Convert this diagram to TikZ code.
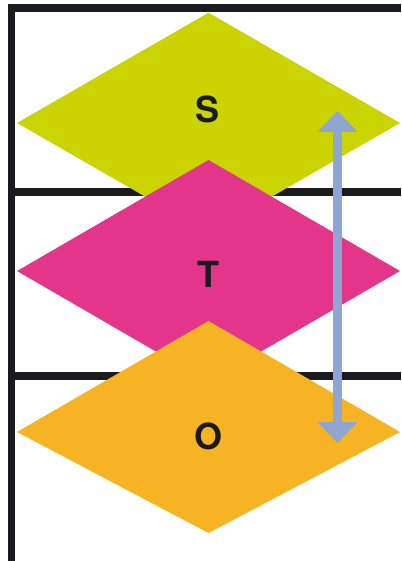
\documentclass[tikz,border=0pt]{standalone}
\usepackage{fontspec}
\setsansfont{TeX Gyre Heros}
\usetikzlibrary{arrows.meta}
\usepackage{xcolor}
\definecolor{scolor}{RGB}{203, 211, 0}
\definecolor{tcolor}{RGB}{227, 54, 138}
\definecolor{ocolor}{RGB}{246, 179, 35}
\definecolor{arrowcolor}{RGB}{143, 166, 211}
\definecolor{rulecolor}{RGB}{27, 26, 31}

\begin{document}
\begin{tikzpicture}[x=1pt, y=-1pt,
    rule/.style={draw=rulecolor, line width=7.5pt},
    letter/.style={font=\fontsize{36}{36}\selectfont\sffamily\bfseries, text=rulecolor, inner sep=0pt}]
        \useasboundingbox (0,0) rectangle (401,561);
        % frame and rules
        \draw[rule] (401,8) -- (11.5,8) -- (11.5,561);
        \draw[rule] (11.5,192) -- (401,192);
        \draw[rule] (11.5,376) -- (401,376);
        % layers
        \fill[scolor] (208.5,12.7) -- (400,123) -- (208.5,233) -- (17,123) -- cycle;
        \fill[tcolor] (208.5,160) -- (400,271) -- (208.5,382) -- (17,271) -- cycle;
        \fill[ocolor] (208.5,321) -- (400,432) -- (208.5,533) -- (17,432) -- cycle;
        \node[letter] (lblS) at (208,109.5) {S};
        \node[letter] (lblT) at (208.5,274) {T};
        \node[letter] (lblO) at (208,436) {O};
        % double arrow
        \coordinate (arrtop) at (337.5,111);
        \coordinate (arrbot) at (337.5,443);
        \draw[arrowcolor, line width=8.5pt,
              {Triangle[length=21pt, width=39pt]}-{Triangle[length=21pt, width=39pt]}]
              (arrtop) -- (arrbot);
      \end{tikzpicture}
\end{document}
